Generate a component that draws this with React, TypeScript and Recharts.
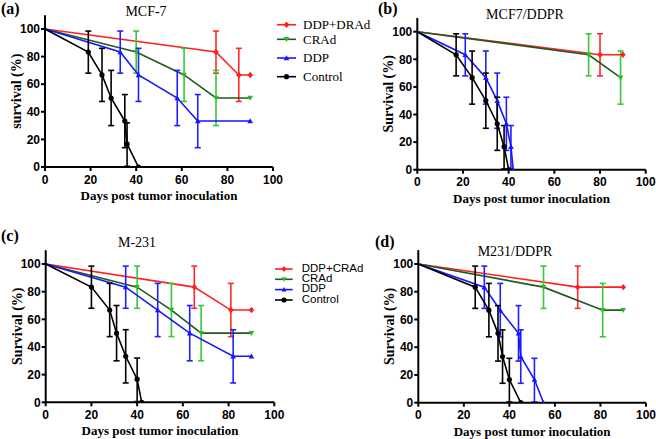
import React from 'react';
import { LineChart, Line, XAxis, YAxis, ErrorBar, Legend } from 'recharts';

type Pt = { day: number; surv: number; lo?: number; hi?: number };

// ---------- Panel (a) MCF-7 ----------
const A_COMBO: Pt[] = [
  { day: 0, surv: 100 },
  { day: 75, surv: 83.3, lo: 68, hi: 98.5 },
  { day: 85, surv: 66.7, lo: 47.5, hi: 86 },
  { day: 90, surv: 66.7 },
];
const A_CRAD: Pt[] = [
  { day: 0, surv: 100 },
  { day: 40, surv: 83.3, lo: 68, hi: 98.5 },
  { day: 61, surv: 66.7, lo: 47.5, hi: 86 },
  { day: 75, surv: 50, lo: 30, hi: 70 },
  { day: 90, surv: 50 },
];
const A_DDP: Pt[] = [
  { day: 0, surv: 100 },
  { day: 33, surv: 83.3, lo: 68, hi: 98.5 },
  { day: 41, surv: 66.7, lo: 47.5, hi: 86 },
  { day: 58, surv: 50, lo: 30, hi: 70 },
  { day: 67, surv: 33.3, lo: 14, hi: 52.5 },
  { day: 90, surv: 33.3 },
];
const A_CONTROL: Pt[] = [
  { day: 0, surv: 100 },
  { day: 19, surv: 83.3, lo: 68, hi: 98.5 },
  { day: 25, surv: 66.7, lo: 47.5, hi: 86 },
  { day: 29, surv: 50, lo: 30, hi: 70 },
  { day: 35, surv: 33.3, lo: 14, hi: 52.5 },
  { day: 36, surv: 16.7, lo: 0.5, hi: 32 },
  { day: 41, surv: 0 },
];

// ---------- Panel (b) MCF7/DDPR ----------
const B_COMBO: Pt[] = [
  { day: 0, surv: 100 },
  { day: 80, surv: 83.3, lo: 68, hi: 98.5 },
  { day: 90, surv: 83.3 },
];
const B_CRAD: Pt[] = [
  { day: 0, surv: 100 },
  { day: 75, surv: 83.3, lo: 68, hi: 98.5 },
  { day: 89, surv: 66.7, lo: 47.5, hi: 86 },
];
const B_DDP: Pt[] = [
  { day: 0, surv: 100 },
  { day: 21, surv: 83.3, lo: 68, hi: 98.5 },
  { day: 30, surv: 66.7, lo: 47.5, hi: 86 },
  { day: 35, surv: 50, lo: 30, hi: 70 },
  { day: 39, surv: 33.3, lo: 14, hi: 52.5 },
  { day: 41, surv: 16.7, lo: 0.5, hi: 32 },
  { day: 42, surv: 0 },
];
const B_CONTROL: Pt[] = [
  { day: 0, surv: 100 },
  { day: 17, surv: 83.3, lo: 68, hi: 98.5 },
  { day: 24, surv: 66.7, lo: 47.5, hi: 86 },
  { day: 30, surv: 50, lo: 30, hi: 70 },
  { day: 35, surv: 33.3, lo: 14, hi: 52.5 },
  { day: 38, surv: 16.7, lo: 0.5, hi: 32 },
  { day: 40, surv: 0 },
];

// ---------- Panel (c) M-231 ----------
const C_COMBO: Pt[] = [
  { day: 0, surv: 100 },
  { day: 65, surv: 83.3, lo: 68, hi: 98.5 },
  { day: 81, surv: 66.7, lo: 47.5, hi: 86 },
  { day: 90, surv: 66.7 },
];
const C_CRAD: Pt[] = [
  { day: 0, surv: 100 },
  { day: 40, surv: 83.3, lo: 68, hi: 98.5 },
  { day: 55, surv: 66.7, lo: 47.5, hi: 86 },
  { day: 68, surv: 50, lo: 30, hi: 70 },
  { day: 90, surv: 50 },
];
const C_DDP: Pt[] = [
  { day: 0, surv: 100 },
  { day: 35, surv: 83.3, lo: 68, hi: 98.5 },
  { day: 49, surv: 66.7, lo: 47.5, hi: 86 },
  { day: 63, surv: 50, lo: 30, hi: 70 },
  { day: 82, surv: 33.3, lo: 14, hi: 52.5 },
  { day: 90, surv: 33.3 },
];
const C_CONTROL: Pt[] = [
  { day: 0, surv: 100 },
  { day: 20, surv: 83.3, lo: 68, hi: 98.5 },
  { day: 28, surv: 66.7, lo: 47.5, hi: 86 },
  { day: 31, surv: 50, lo: 30, hi: 70 },
  { day: 35, surv: 33.3, lo: 14, hi: 52.5 },
  { day: 40, surv: 16.7, lo: 0.5, hi: 32 },
  { day: 42, surv: 0 },
];

// ---------- Panel (d) M231/DDPR ----------
const D_COMBO: Pt[] = [
  { day: 0, surv: 100 },
  { day: 70, surv: 83.3, lo: 68, hi: 98.5 },
  { day: 90, surv: 83.3 },
];
const D_CRAD: Pt[] = [
  { day: 0, surv: 100 },
  { day: 55, surv: 83.3, lo: 68, hi: 98.5 },
  { day: 81, surv: 66.7, lo: 47.5, hi: 86 },
  { day: 90, surv: 66.7 },
];
const D_DDP: Pt[] = [
  { day: 0, surv: 100 },
  { day: 29, surv: 83.3, lo: 68, hi: 98.5 },
  { day: 36, surv: 66.7, lo: 47.5, hi: 86 },
  { day: 44, surv: 50, lo: 30, hi: 70 },
  { day: 45, surv: 33.3, lo: 14, hi: 52.5 },
  { day: 51, surv: 16.7, lo: 0.5, hi: 32 },
  { day: 55, surv: 0 },
];
const D_CONTROL: Pt[] = [
  { day: 0, surv: 100 },
  { day: 25, surv: 83.3, lo: 68, hi: 98.5 },
  { day: 31, surv: 66.7, lo: 47.5, hi: 86 },
  { day: 35, surv: 50, lo: 30, hi: 70 },
  { day: 37, surv: 33.3, lo: 14, hi: 52.5 },
  { day: 40, surv: 16.7, lo: 0.5, hi: 32 },
  { day: 45, surv: 0 },
];

const X_TICKS = [0, 20, 40, 60, 80, 100];
const Y_TICKS = [0, 20, 40, 60, 80, 100];
const LEGEND_A_LABELS = ['DDP+DRAd', 'CRAd', 'DDP', 'Control'];
const LEGEND_C_LABELS = ['DDP+CRAd', 'CRAd', 'DDP', 'Control'];
const PANEL_TITLES = ['MCF-7', 'MCF7/DDPR', 'M-231', 'M231/DDPR'];
const PANEL_LETTERS = ['(a)', '(b)', '(c)', '(d)'];
const Y_LABELS = ['survival (%)', 'Survival (%)', 'Survival (%)', 'Survival (%)'];
const X_LABEL = 'Days post tumor inoculation';

// ---------- styles / layout ----------
const W = 656;
const H = 439;
const YW = 40;
const XH = 33;
const SERIF = '"Liberation Serif", "Times New Roman", serif';
const SANS = '"Liberation Sans", Arial, sans-serif';

type Shape = 'diamond' | 'triDown' | 'triUp' | 'circle';
const STYLES: { line: string; mark: string; err: string; shape: Shape }[] = [
  { line: '#ff1f1f', mark: '#ff1f1f', err: '#ff2a2a', shape: 'diamond' },
  { line: '#1f5a1f', mark: '#22c022', err: '#38c838', shape: 'triDown' },
  { line: '#1616ff', mark: '#1616ff', err: '#2020ff', shape: 'triUp' },
  { line: '#000000', mark: '#000000', err: '#000000', shape: 'circle' },
];

const PANELS = [
  { series: [A_COMBO, A_CRAD, A_DDP, A_CONTROL], rect: { x0: 45, x1: 273, yTop: 15.2, yBot: 167 } },
  { series: [B_COMBO, B_CRAD, B_DDP, B_CONTROL], rect: { x0: 417.3, x1: 645.7, yTop: 17.9, yBot: 169.7 } },
  { series: [C_COMBO, C_CRAD, C_DDP, C_CONTROL], rect: { x0: 45.7, x1: 274.3, yTop: 250.2, yBot: 402.3 } },
  { series: [D_COMBO, D_CRAD, D_DDP, D_CONTROL], rect: { x0: 418.3, x1: 646, yTop: 250.1, yBot: 402.7 } },
];

function toRows(pts: Pt[]) {
  return pts.map((p) => ({
    day: p.day,
    surv: p.surv,
    err: p.lo != null && p.hi != null ? [p.surv - p.lo, p.hi - p.surv] : null,
  }));
}

function Marker({ shape, cx, cy, color, s = 2.8 }: { shape: Shape; cx: number; cy: number; color: string; s?: number }) {
  if (shape === 'circle') return <circle cx={cx} cy={cy} r={2.6} fill={color} />;
  let d = '';
  if (shape === 'diamond') d = `M${cx},${cy - s - 0.4}L${cx + s},${cy}L${cx},${cy + s + 0.4}L${cx - s},${cy}Z`;
  if (shape === 'triUp') d = `M${cx},${cy - s}L${cx + s},${cy + s * 0.8}L${cx - s},${cy + s * 0.8}Z`;
  if (shape === 'triDown') d = `M${cx},${cy + s}L${cx + s},${cy - s * 0.8}L${cx - s},${cy - s * 0.8}Z`;
  return <path d={d} fill={color} />;
}

const makeDot = (shape: Shape, color: string) => (props: any) => {
  const { cx, cy, index, payload } = props;
  if (cx == null || cy == null || !payload || payload.day === 0) return <g key={`e${index}`} />;
  return (
    <g key={`m${index}`}>
      <Marker shape={shape} cx={cx} cy={cy} color={color} />
    </g>
  );
};

const LEGEND_A_Y = [14.7, 29.3, 48, 66.7];
const LEGEND_C_Y = [14, 24.3, 34.6, 45];

function LegendA() {
  return (
    <svg width={110} height={80} style={{ overflow: 'visible', display: 'block' }}>
      {LEGEND_A_LABELS.map((lab, i) => {
        const y = LEGEND_A_Y[i];
        const st = STYLES[i];
        return (
          <g key={lab}>
            <line x1={7} x2={26} y1={y} y2={y} stroke={st.line} strokeWidth={1.6} />
            <Marker shape={st.shape} cx={16.5} cy={y} color={st.mark} />
            <text x={33} y={y + 4.4} fontFamily={SERIF} fontSize={13} fill="#000">
              {lab}
            </text>
          </g>
        );
      })}
    </svg>
  );
}

function LegendC() {
  return (
    <svg width={110} height={55} style={{ overflow: 'visible', display: 'block' }}>
      {LEGEND_C_LABELS.map((lab, i) => {
        const y = LEGEND_C_Y[i];
        const st = STYLES[i];
        return (
          <g key={lab}>
            <line x1={5} x2={22.7} y1={y} y2={y} stroke={st.line} strokeWidth={1.6} />
            <Marker shape={st.shape} cx={14} cy={y} color={st.mark} s={2.5} />
            <text x={31.7} y={y + 2.8} fontFamily={SANS} fontSize={11.5} fill="#000">
              {lab}
            </text>
          </g>
        );
      })}
    </svg>
  );
}

function Panel({ idx }: { idx: number }) {
  const { series, rect } = PANELS[idx];
  const margin = {
    left: rect.x0 - YW,
    right: W - rect.x1,
    top: rect.yTop,
    bottom: H - rect.yBot - XH,
  };
  const yLabel = Y_LABELS[idx];
  const axisLine = { stroke: '#000', strokeWidth: 2 };
  const tickStyle = { fontFamily: SANS, fontWeight: 700, fontSize: 12, fill: '#000' };
  return (
    <div style={{ position: 'absolute', left: 0, top: 0 }}>
      <LineChart width={W} height={H} margin={margin}>
        <XAxis
          type="number"
          dataKey="day"
          domain={[0, 100]}
          ticks={X_TICKS}
          allowDataOverflow
          height={XH}
          tickSize={4}
          tickMargin={4}
          axisLine={axisLine}
          tickLine={axisLine}
          tick={tickStyle}
          interval={0}
          label={{
            value: X_LABEL,
            position: 'insideBottom',
            offset: 0,
            fontFamily: SERIF,
            fontWeight: 700,
            fontSize: 13,
            fill: '#000',
          }}
        />
        <YAxis
          type="number"
          domain={[0, 110]}
          ticks={Y_TICKS}
          allowDataOverflow
          width={YW}
          tickSize={4}
          tickMargin={1}
          axisLine={axisLine}
          tickLine={axisLine}
          tick={tickStyle}
          interval={0}
          label={{
            content: (p: any) => {
              const vb = p.viewBox || {};
              const cx = vb.x + vb.width - 24;
              const cy = vb.y + vb.height / 2;
              return (
                <text
                  x={cx}
                  y={cy}
                  transform={`rotate(-90 ${cx} ${cy})`}
                  textAnchor="middle"
                  fontFamily={SERIF}
                  fontWeight={700}
                  fontSize={14}
                  fill="#000"
                >
                  {yLabel}
                </text>
              );
            },
          }}
        />
        {series.map((pts, i) => {
          const st = STYLES[i];
          return (
            <Line
              key={i}
              data={toRows(pts)}
              dataKey="surv"
              type="linear"
              stroke={st.line}
              strokeWidth={1.6}
              dot={makeDot(st.shape, st.mark)}
              activeDot={false}
              legendType="none"
              isAnimationActive={false}
            >
              <ErrorBar dataKey="err" direction="y" width={3} stroke={st.err} strokeWidth={1.6} isAnimationActive={false} />
            </Line>
          );
        })}
        {idx === 0 && (
          <Legend
            layout="vertical"
            align="center"
            verticalAlign="middle"
            content={() => <LegendA />}
            wrapperStyle={{ left: 270, top: 10, width: 110, height: 80 }}
          />
        )}
        {idx === 2 && (
          <Legend
            layout="vertical"
            align="center"
            verticalAlign="middle"
            content={() => <LegendC />}
            wrapperStyle={{ left: 270, top: 255, width: 110, height: 55 }}
          />
        )}
      </LineChart>
    </div>
  );
}

const TITLE_POS = [
  { cx: 146, top: 5 },
  { cx: 525, top: 8 },
  { cx: 137, top: 236 },
  { cx: 515, top: 245 },
];
const LETTER_POS = [
  { left: 1, top: 1 },
  { left: 378, top: 1 },
  { left: 1, top: 228 },
  { left: 375, top: 234 },
];

export default function App() {
  return (
    <div style={{ position: 'absolute', left: 0, top: 0, width: W, height: H, background: '#fff', overflow: 'hidden' }}>
      {PANELS.map((_, i) => (
        <Panel key={i} idx={i} />
      ))}
      {PANEL_TITLES.map((t, i) => (
        <div
          key={t}
          style={{
            position: 'absolute',
            left: TITLE_POS[i].cx - 100,
            top: TITLE_POS[i].top,
            width: 200,
            textAlign: 'center',
            fontFamily: SERIF,
            fontSize: 14,
            lineHeight: '14px',
            color: '#000',
          }}
        >
          {t}
        </div>
      ))}
      {PANEL_LETTERS.map((t, i) => (
        <div
          key={t}
          style={{
            position: 'absolute',
            left: LETTER_POS[i].left,
            top: LETTER_POS[i].top,
            fontFamily: SERIF,
            fontWeight: 700,
            fontSize: 16,
            lineHeight: '16px',
            color: '#000',
          }}
        >
          {t}
        </div>
      ))}
    </div>
  );
}
